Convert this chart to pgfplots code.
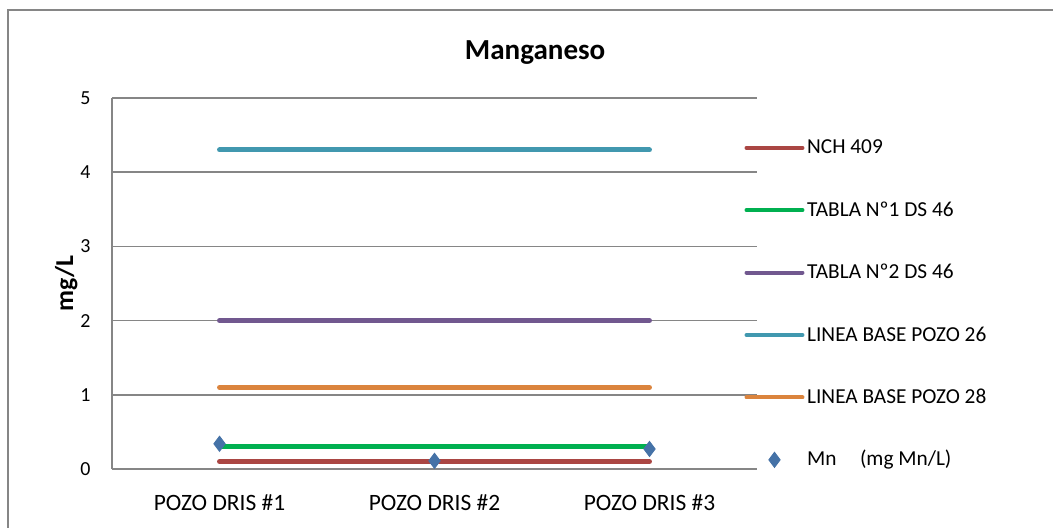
\documentclass[border=0pt]{standalone}
\usepackage{fontspec}
\setmainfont{Carlito}
\usepackage{pgfplots}
\pgfplotsset{compat=1.18}
\definecolor{axisgray}{RGB}{134,134,134}
\definecolor{nchred}{RGB}{170,70,67}
\definecolor{tablagreen}{RGB}{0,176,80}
\definecolor{tablapurple}{RGB}{113,88,143}
\definecolor{baseteal}{RGB}{65,152,175}
\definecolor{baseorange}{RGB}{219,132,61}
\definecolor{mnblue}{RGB}{69,114,167}

\pgfplotsset{
  hline/.style={line width=2.1pt, line cap=round, no marks,
    legend image code/.code={\draw[##1, line width=1.7pt] (0cm,0cm) -- (0.84cm,0cm);}},
  mnpoints/.style={only marks, mark=diamond*, mark size=3.2pt, mnblue,
    mark options={draw=mnblue, fill=mnblue},
    legend image code/.code={\draw[##1] plot coordinates {(0.42cm,0cm)};}},
}

\begin{document}
\begin{tikzpicture}
\draw[axisgray, line width=0.6pt] (0.12cm,-1cm) -- (0.12cm,7.755cm) -- (17cm,7.755cm);
\begin{axis}[
  at={(1.68cm,0.87cm)}, anchor=south west,
  width=9.675cm, height=5.565cm, scale only axis,
  xmin=0.5, xmax=3.5, ymin=0, ymax=5,
  xtick={1,2,3},
  xticklabels={POZO DRIS \#1, POZO DRIS \#2, POZO DRIS \#3},
  ytick={0,1,2,3,4,5},
  axis x line*=bottom, axis y line*=left,
  axis line style={draw=axisgray, line width=0.7pt, -},
  major tick length=0pt,
  ymajorgrids, grid style={draw=axisgray, line width=0.7pt},
  /pgf/number format/assume math mode=true,
  xticklabel style={yshift=-0.26cm, font=\fontsize{10}{12}\selectfont},
  yticklabel style={xshift=-0.2cm, font=\fontsize{8.5}{10}\selectfont},
  title={\textbf{Manganeso}},
  title style={at={(axis description cs:0.656,1.085)}, anchor=center,
    font=\fontsize{12.4}{14}\selectfont},
  ylabel={\textbf{mg/L}},
  ylabel style={at={(axis description cs:-0.071,0.5)}, anchor=center,
    font=\fontsize{11}{13}\selectfont},
  legend cell align=left,
  legend style={at={(axis description cs:0.969,0.9084)}, anchor=north west,
    draw=none, fill=none, font=\fontsize{9.1}{11}\selectfont,
    row sep=0.616cm, column sep=0.04cm,
    nodes={inner sep=0pt, text height=0.25cm, text depth=0.07cm}},
]
\addplot[hline, nchred] coordinates {(1,0.1) (2,0.1) (3,0.1)};
\addlegendentry{NCH 409}
\addplot[hline, tablagreen] coordinates {(1,0.3) (2,0.3) (3,0.3)};
\addlegendentry{TABLA Nº1 DS 46}
\addplot[hline, tablapurple] coordinates {(1,2) (2,2) (3,2)};
\addlegendentry{TABLA Nº2 DS 46}
\addplot[hline, baseteal] coordinates {(1,4.3) (2,4.3) (3,4.3)};
\addlegendentry{LINEA BASE POZO 26}
\addplot[hline, baseorange] coordinates {(1,1.1) (2,1.1) (3,1.1)};
\addlegendentry{LINEA BASE POZO 28}
\addplot[mnpoints] coordinates {(1,0.34) (2,0.11) (3,0.27)};
\addlegendentry{Mn\hspace{1.1em}(mg Mn/L)}
\end{axis}
\pgfresetboundingbox
\path[use as bounding box] (0,0) rectangle (15.795cm,7.905cm);
\end{tikzpicture}
\end{document}
